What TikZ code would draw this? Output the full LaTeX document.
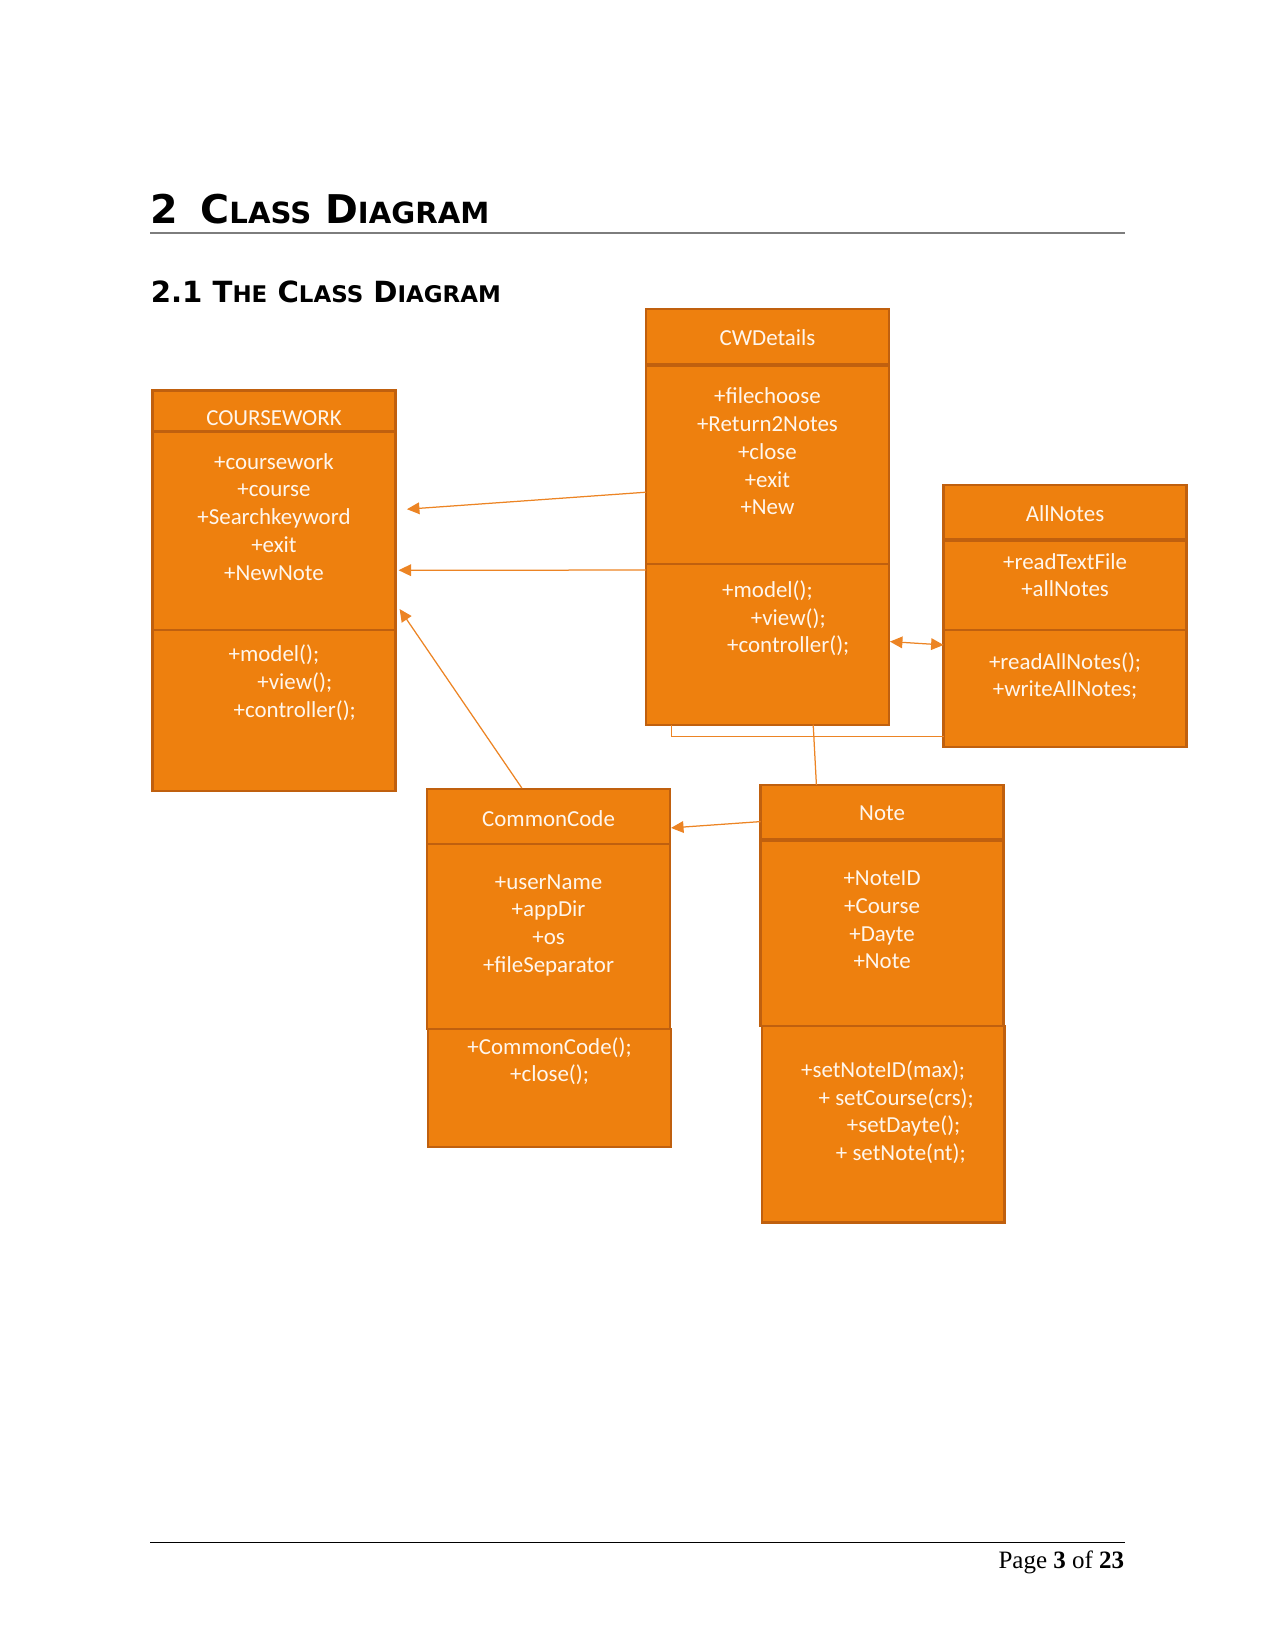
\documentclass[tikz,border=0pt]{standalone}
\usepackage{fontspec}
\setmainfont{Liberation Serif}
\newfontfamily\clsfamily{Carlito}
\newfontfamily\headfamily{DejaVu Sans}
\usetikzlibrary{positioning,arrows.meta,calc}
\definecolor{clsfill}{RGB}{238,128,14}
\definecolor{clsline}{RGB}{192,96,14}
\definecolor{clstext}{RGB}{255,246,236}
\definecolor{linkcol}{RGB}{236,132,36}
\definecolor{rulegray}{RGB}{125,125,125}
\newcommand{\clsrows}[1]{\setlength{\tabcolsep}{0pt}\begin{tabular}[t]{c}#1\end{tabular}}

\begin{document}
\begin{tikzpicture}[
    x=0.48pt, y=-0.48pt,
    part/.style={rectangle, draw=clsline, line width=1.1pt, fill=clsfill, minimum width=116.6pt, inner sep=0pt, outer sep=0pt, text=clstext, font=\fontsize{11}{13.3}\selectfont\clsfamily},
    link/.style={draw=linkcol, line width=0.6pt},
    assoc/.style={link, -{Triangle[length=6pt, width=5.6pt]}},
    twoway/.style={link, {Triangle[length=6pt, width=5.6pt]}-{Triangle[length=6pt, width=5.6pt]}},
    thicksep/.style={draw=clsline, line width=2pt},
    secthead/.style={anchor=base west, inner sep=0pt}
]
\useasboundingbox (0,0) rectangle (1275,1650);

% Headings
\node[secthead, font=\fontsize{19}{22}\selectfont\headfamily\bfseries] (sect) at (150.4,224) {2\hspace{10.6pt}C{\fontsize{14}{16}\selectfont LASS} D{\fontsize{14}{16}\selectfont IAGRAM}};
\draw[rulegray, line width=0.7pt] (150.4,233) -- (1124.6,233);
\node[secthead, font=\fontsize{14}{16}\selectfont\headfamily\bfseries] (subsect) at (150.4,303) {2.1 T{\fontsize{11}{13}\selectfont HE} C{\fontsize{11}{13}\selectfont LASS} D{\fontsize{11}{13}\selectfont IAGRAM}};

% COURSEWORK
\node[part, anchor=north west, text height=16.9pt, text depth=2.8pt] (cwhead) at (152.5,390.5) {COURSEWORK};
\node[part, below=0pt of cwhead, text height=18.1pt, text depth=77pt] (cwattr) {\clsrows{+coursework\\+course\\+Searchkeyword\\+exit\\+NewNote}};
\node[part, below=0pt of cwattr, text height=15.4pt, text depth=62pt] (cwmeth) {\clsrows{+model();\\\hspace*{20pt}+view();\\\hspace*{20pt}+controller();}};

% CWDetails
\node[part, anchor=north west, text height=17.6pt, text depth=9.1pt] (cwdhead) at (646,309.3) {CWDetails};
\node[part, below=0pt of cwdhead, text height=18.7pt, text depth=76.8pt] (cwdattr) {\clsrows{+filechoose\\+Return2Notes\\+close\\+exit\\+New}};
\node[part, below=0pt of cwdattr, text height=16.1pt, text depth=61.1pt] (cwdmeth) {\clsrows{+model();\\\hspace*{20pt}+view();\\\hspace*{20pt}+controller();}};
\draw[thicksep] (cwdhead.south west) -- (cwdhead.south east);

% AllNotes
\node[part, anchor=north west, text height=17.7pt, text depth=8.6pt] (anhead) at (943.6,485) {AllNotes};
\node[part, below=0pt of anhead, text height=14.1pt, text depth=29.3pt] (anattr) {\clsrows{+readTextFile\\+allNotes}};
\node[part, below=0pt of anattr, text height=18.7pt, text depth=37.4pt] (anmeth) {\clsrows{+readAllNotes();\\+writeAllNotes;}};
\draw[thicksep] (anhead.south west) -- (anhead.south east);

% CommonCode
\node[part, anchor=north west, text height=17.8pt, text depth=8.5pt] (cchead) at (427.1,789) {CommonCode};
\node[part, below=0pt of cchead, text height=21.7pt, text depth=67.2pt] (ccattr) {\clsrows{+userName\\+appDir\\+os\\+fileSeparator}};
\node[part, below=0pt of ccattr, xshift=0.5pt, text height=12.1pt, text depth=44.4pt] (ccmeth) {\clsrows{+CommonCode();\\+close();}};

% Note
\node[part, anchor=north west, text height=17.2pt, text depth=9.1pt] (nthead) at (760.6,784.8) {Note};
\node[part, below=0pt of nthead, text height=22.2pt, text depth=67.2pt] (ntattr) {\clsrows{+NoteID\\+Course\\+Dayte\\+Note}};
\node[part, below=0pt of ntattr, xshift=0.5pt, text height=24.7pt, text depth=69.7pt] (ntmeth) {\clsrows{+setNoteID(max);\\\hspace*{12.6pt}+ setCourse(crs);\\\hspace*{19.7pt}+setDayte();\\\hspace*{17pt}+ setNote(nt);}};
\draw[thicksep] (nthead.south west) -- (nthead.south east);

% Links
\draw[assoc] ($(cwdattr.west)+(0,27.8)$) -- ($(cwattr.east)+(11.5,-21.4)$);
\draw[assoc] ($(cwdmeth.north west)+(0,6.2)$) -- ($(cwattr.east)+(3.1,39.6)$);
\draw[assoc] ($(cchead.north west)+(94.7,-1)$) -- ($(cwmeth.north east)+(4.2,-20.6)$);
\draw[twoway] ($(cwdmeth.east)+(1,-2.7)$) -- ($(anmeth.west)+(0,-43.7)$);
\draw[link] ($(cwdmeth.south west)+(25.2,0)$) |- ($(anmeth.south west)+(0,-10.6)$);
\draw[link] ($(cwdmeth.south west)+(167.2,0)$) -- ($(nthead.north west)+(55.8,0)$);
\draw[assoc] ($(nthead.west)+(0,9.4)$) -- ($(cchead.east)+(1,11.5)$);

% Footer
\draw[black, line width=0.6pt] (150.4,1542.3) -- (1124.6,1542.3);
\node[anchor=base east, inner sep=0pt, font=\fontsize{12}{14}\selectfont] (pagenum) at (1124.6,1568.5) {Page \textbf{3} of \textbf{23}};
\end{tikzpicture}
\end{document}
